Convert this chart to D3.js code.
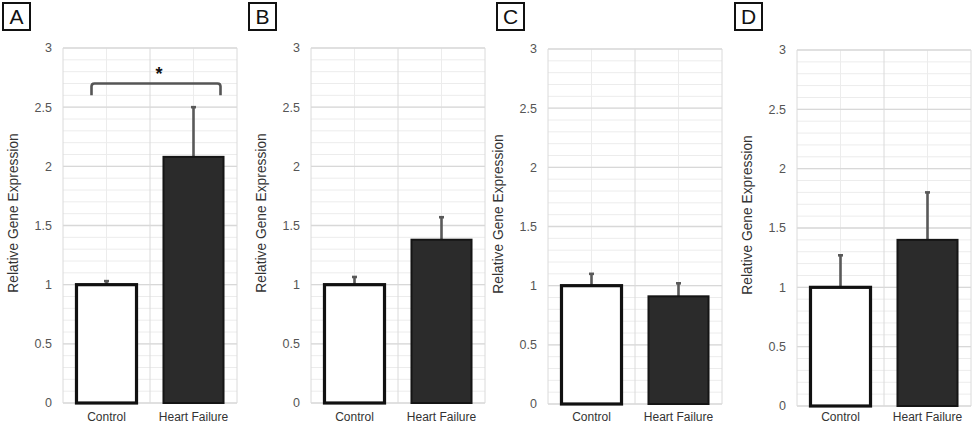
<!DOCTYPE html>
<html>
<head>
<meta charset="utf-8">
<script src="https://cdn.jsdelivr.net/npm/d3@7"></script>
<style>
  body { margin: 0; background: #fff; }
  svg { display: block; font-family: "Liberation Sans", Arial, sans-serif; }
</style>
</head>
<body>
<div id="chart"></div>
<script>
// panel data
const panelLabels = ["A", "B", "C", "D"];
const categories = ["Control", "Heart Failure"];
const controlValues = [1.0, 1.0, 1.0, 1.0];
const controlErrors = [0.03, 0.065, 0.1, 0.27];
const failureValues = [2.08, 1.38, 0.91, 1.4];
const failureErrors = [0.42, 0.19, 0.11, 0.4];
const yTicks = [0, 0.5, 1, 1.5, 2, 2.5, 3];
const minorTicks = d3.range(0, 3.01, 0.1);
// significance bracket (panel A only)
const sigPanel = 0;
const sigLevel = 2.7;
const sigDrop = 0.1;

const width = 972;
const height = 426;

// layout of each panel
const plotLeft = [63, 311, 548, 797];
const plotTop = [48, 48, 49, 50];
const plotBottom = [403, 403, 404, 406];
const labelLeft = [3, 249, 497, 735];
const plotWidth = 174;

const svg = d3.select("#chart").append("svg")
  .attr("width", width)
  .attr("height", height);

panelLabels.forEach((label, i) => {
  const g = svg.append("g");

  const x = d3.scaleBand()
    .domain(categories)
    .range([plotLeft[i], plotLeft[i] + plotWidth])
    .padding(0);
  const y = d3.scaleLinear()
    .domain([0, 3])
    .range([plotBottom[i], plotTop[i]]);

  // minor horizontal grid
  g.selectAll(".minor")
    .data(minorTicks)
    .join("line")
    .attr("x1", plotLeft[i]).attr("x2", plotLeft[i] + plotWidth)
    .attr("y1", d => y(d)).attr("y2", d => y(d))
    .attr("stroke", "#ececec").attr("stroke-width", 1);

  // category centre verticals
  g.selectAll(".vminor")
    .data(categories)
    .join("line")
    .attr("x1", d => x(d) + x.bandwidth() / 2).attr("x2", d => x(d) + x.bandwidth() / 2)
    .attr("y1", y(3)).attr("y2", y(0))
    .attr("stroke", "#ececec").attr("stroke-width", 1);

  // major horizontal grid
  g.selectAll(".major")
    .data(yTicks)
    .join("line")
    .attr("x1", plotLeft[i]).attr("x2", plotLeft[i] + plotWidth)
    .attr("y1", d => y(d)).attr("y2", d => y(d))
    .attr("stroke", "#d8d8d8").attr("stroke-width", 1.3);

  // vertical boundaries (edges + between categories)
  const edges = [x.range()[0], x(categories[1]), x.range()[1]];
  g.selectAll(".vmajor")
    .data(edges)
    .join("line")
    .attr("x1", d => d).attr("x2", d => d)
    .attr("y1", y(3)).attr("y2", y(0))
    .attr("stroke", "#dadada").attr("stroke-width", 1);

  // y tick labels
  g.selectAll(".ytick")
    .data(yTicks)
    .join("text")
    .attr("x", plotLeft[i] - 11)
    .attr("y", d => y(d))
    .attr("dy", "0.35em")
    .attr("text-anchor", "end")
    .attr("font-size", 12.5)
    .attr("fill", "#555")
    .text(d => d);

  // y axis title
  g.append("text")
    .attr("transform", `translate(${plotLeft[i] - 45}, ${plotTop[i] + 165})rotate(-90)`)
    .attr("text-anchor", "middle")
    .attr("font-size", 13.8)
    .attr("fill", "#333")
    .text("Relative Gene Expression");

  // x labels
  g.selectAll(".xlab")
    .data(categories)
    .join("text")
    .attr("x", d => x(d) + x.bandwidth() / 2)
    .attr("y", Math.min(plotBottom[i] + 19, 421))
    .attr("text-anchor", "middle")
    .attr("font-size", 12)
    .attr("fill", "#333")
    .text(d => d);

  const bars = [
    { cat: categories[0], value: controlValues[i], err: controlErrors[i], fill: "#ffffff", stroke: "#111", sw: 3.2 },
    { cat: categories[1], value: failureValues[i], err: failureErrors[i], fill: "#2b2b2b", stroke: "#151515", sw: 2 }
  ];
  const barW = x.bandwidth() * 0.69;

  // error bars (upper only)
  g.selectAll(".err")
    .data(bars)
    .join("line")
    .attr("x1", d => x(d.cat) + x.bandwidth() / 2)
    .attr("x2", d => x(d.cat) + x.bandwidth() / 2)
    .attr("y1", d => y(d.value))
    .attr("y2", d => y(d.value + d.err))
    .attr("stroke", "#595959").attr("stroke-width", 2.6);
  g.selectAll(".cap")
    .data(bars)
    .join("line")
    .attr("x1", d => x(d.cat) + x.bandwidth() / 2 - 2.5)
    .attr("x2", d => x(d.cat) + x.bandwidth() / 2 + 2.5)
    .attr("y1", d => y(d.value + d.err))
    .attr("y2", d => y(d.value + d.err))
    .attr("stroke", "#595959").attr("stroke-width", 2.6);

  // bars
  g.selectAll(".bar")
    .data(bars)
    .join("rect")
    .attr("x", d => x(d.cat) + (x.bandwidth() - barW) / 2)
    .attr("y", d => y(d.value))
    .attr("width", barW)
    .attr("height", d => y(0) - y(d.value))
    .attr("fill", d => d.fill)
    .attr("stroke", d => d.stroke)
    .attr("stroke-width", d => d.sw);

  // panel letter in a box
  g.append("rect")
    .attr("x", labelLeft[i]).attr("y", 3)
    .attr("width", 27).attr("height", 27)
    .attr("fill", "none")
    .attr("stroke", "#111").attr("stroke-width", 2);
  g.append("text")
    .attr("x", labelLeft[i] + 13.5).attr("y", 24)
    .attr("text-anchor", "middle")
    .attr("font-size", 21)
    .attr("fill", "#111")
    .text(label);

  // significance bracket
  if (i === sigPanel) {
    const x0 = x(categories[0]) + x.bandwidth() / 2 - 15;
    const x1 = x(categories[1]) + x.bandwidth() / 2 + 27;
    const yt = y(sigLevel);
    const yb = y(sigLevel - sigDrop);
    const r = 3;
    g.append("path")
      .attr("d", `M${x0},${yb} L${x0},${yt + r} Q${x0},${yt} ${x0 + r},${yt} L${x1 - r},${yt} Q${x1},${yt} ${x1},${yt + r} L${x1},${yb}`)
      .attr("fill", "none")
      .attr("stroke", "#555").attr("stroke-width", 2.6);
    g.append("text")
      .attr("x", (x0 + x1) / 2 + 3)
      .attr("y", yt - 4)
      .attr("text-anchor", "middle")
      .attr("font-size", 18)
      .attr("font-weight", "bold")
      .attr("fill", "#111")
      .text("*");
  }
});
</script>
</body>
</html>
